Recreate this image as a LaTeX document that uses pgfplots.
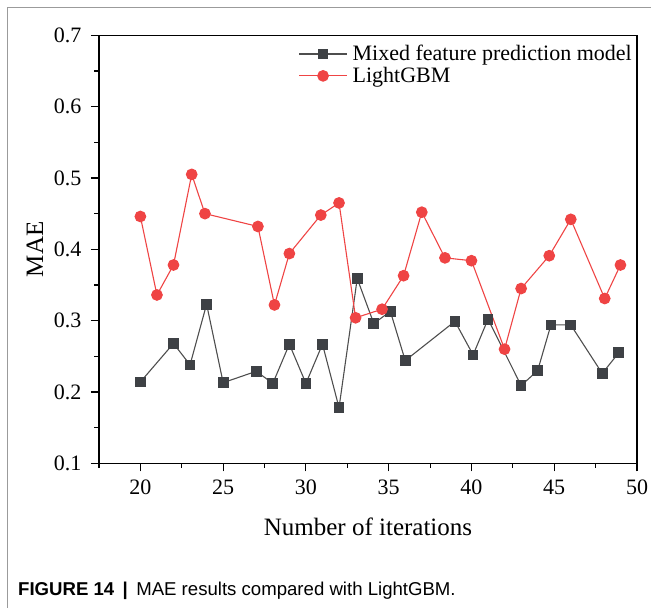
\documentclass[border=0pt]{standalone}
\usepackage{pgfplots}
\pgfplotsset{compat=1.18}
\usepackage{fontspec}
\setmainfont{Liberation Serif}
\newfontfamily\capfont{Liberation Sans}
\definecolor{mixfill}{RGB}{62,65,69}
\definecolor{mixline}{RGB}{78,78,78}
\definecolor{lgbred}{RGB}{239,68,68}
\definecolor{framegray}{RGB}{155,155,155}

\begin{document}
\begin{tikzpicture}[x=1pt,y=1pt]
\useasboundingbox (0,0) rectangle (651,608);
\draw[framegray,line width=1pt] (7,0) -- (7,600) -- (651,600);
\node[anchor=base west,inner sep=0pt,font=\capfont\fontsize{18.6}{22}\selectfont]
  at (18,12) {\textbf{FIGURE 14}\hspace{0.45em}\textbf{|}\hspace{0.45em}MAE results compared with LightGBM.};
\begin{axis}[
    at={(99pt,144.7pt)}, anchor=south west,
    scale only axis, width=538pt, height=428pt,
    xmin=17.5, xmax=50,
    ymin=0.1, ymax=0.7,
    xtick={20,25,...,50},
    minor xtick={17.5,22.5,...,47.5},
    ytick={0.1,0.2,...,0.7},
    minor ytick={0.15,0.25,...,0.65},
    xtick pos=bottom, ytick pos=left,
    tick align=outside,
    major tick length=8pt, minor tick length=4.5pt,
    every tick/.style={black, line width=1.1pt},
    axis line style={line width=1.3pt},
    tick label style={font=\fontsize{22}{26}\selectfont},
    xticklabel style={yshift=-5pt},
    yticklabel style={xshift=-6pt, /pgf/number format/.cd, fixed, fixed zerofill, precision=1},
    /pgf/number format/assume math mode=true,
    xlabel={Number of iterations},
    ylabel={MAE},
    every axis x label/.style={at={(axis description cs:0.5,-0.1495)}, anchor=center,
        font=\fontsize{25}{30}\selectfont},
    every axis y label/.style={at={(axis description cs:-0.119,0.5)}, anchor=center, rotate=90,
        font=\fontsize{25}{30}\selectfont},
    legend style={at={(axis description cs:1,1)}, anchor=north east, yshift=-6pt, draw=none, fill=none,
        font=\fontsize{22}{26}\selectfont, inner xsep=0pt, inner ysep=2pt, row sep=1pt,
        nodes={inner ysep=2pt, inner xsep=5pt}},
    legend cell align=left,
    legend image code/.code={
        \draw[mark repeat=2, mark phase=2] plot coordinates {(0pt,0pt) (24pt,0pt) (48pt,0pt)};
    },
]
\addplot[color=mixline, line width=1.1pt, mark=square*, mark size=4.8pt,
    mark options={fill=mixfill, draw=mixfill, solid}]
    coordinates {(20,0.214)(22,0.268)(23,0.238)(24,0.323)(25,0.213)(27,0.229)(28,0.212)(29,0.267)
    (30,0.212)(31,0.267)(32,0.178)(33.1,0.359)(34.1,0.296)(35.1,0.313)(36,0.244)(39,0.299)
    (40.1,0.252)(41,0.302)(43,0.209)(44,0.230)(44.8,0.294)(46,0.294)(47.9,0.226)(48.9,0.255)};
\addplot[color=lgbred, line width=1.1pt, mark=*, mark size=5.3pt,
    mark options={fill=lgbred, draw=lgbred, solid}]
    coordinates {(20,0.446)(21,0.336)(22,0.378)(23.1,0.505)(23.9,0.450)(27.1,0.432)(28.1,0.322)
    (29,0.394)(30.9,0.448)(32,0.465)(33,0.304)(34.6,0.316)(35.9,0.363)(37,0.452)(38.4,0.388)
    (40,0.384)(42,0.260)(43,0.345)(44.7,0.391)(46,0.442)(48.05,0.331)(49,0.378)};
\legend{Mixed feature prediction model, LightGBM}
\end{axis}
\end{tikzpicture}
\end{document}
